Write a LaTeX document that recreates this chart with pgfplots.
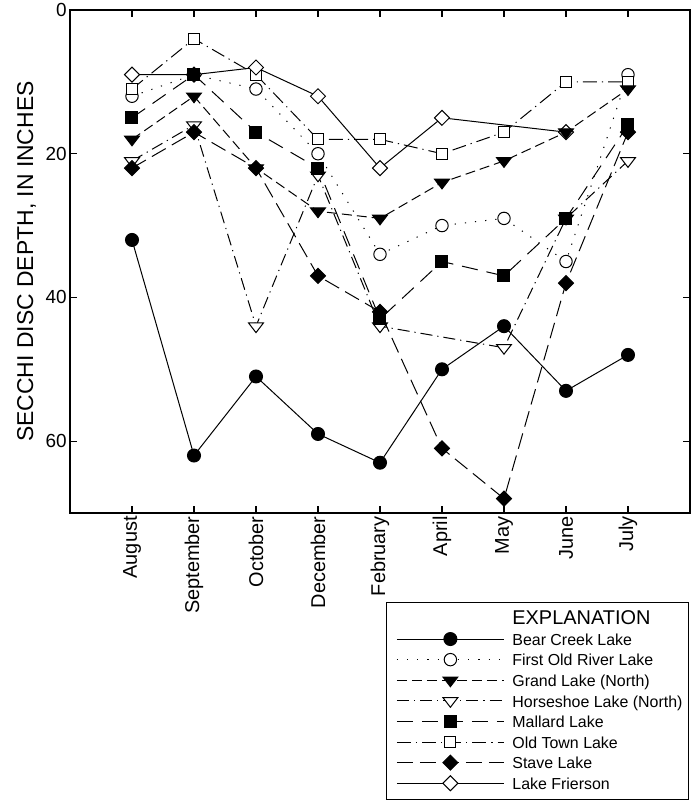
\documentclass[border=0pt]{standalone}
\usepackage{fontspec}
\setmainfont{Liberation Sans}
\usepackage{pgfplots}
\pgfplotsset{compat=1.18}
\pgfplotsset{
  bear/.style={solid, mark=*, mark size=3.25bp, mark options={solid}},
  forl/.style={dash pattern=on 0.6bp off 4.5bp, mark=*, mark size=3.1bp, mark options={solid, fill=white}},
  grand/.style={dash pattern=on 5bp off 2.5bp, mark=triangle*, mark size=4.3bp, mark options={solid, rotate=180, yscale=0.75}},
  horse/.style={dash pattern=on 6bp off 2.5bp on 0.6bp off 2.5bp, mark=triangle*, mark size=4.3bp, mark options={solid, fill=white, rotate=180, yscale=0.75}},
  mallard/.style={dash pattern=on 8bp off 4.5bp, mark=square*, mark size=3bp, mark options={solid}},
  oldtown/.style={dash pattern=on 7bp off 2.5bp on 0.6bp off 2.5bp, mark=square*, mark size=2.75bp, mark options={solid, fill=white}},
  stave/.style={dash pattern=on 8bp off 3.5bp, mark=square*, mark size=2.65bp, mark options={solid, rotate=45}},
  frier/.style={solid, mark=square*, mark size=2.65bp, mark options={solid, fill=white, rotate=45}},
}
\begin{document}
\begin{tikzpicture}
\useasboundingbox (-35bp,-144bp) rectangle (313bp,256.5bp);
\begin{axis}[
  at={(0,0)}, anchor=south west,
  width=310bp, height=251.5bp, scale only axis,
  xmin=-1, xmax=9, ymin=0, ymax=70, y dir=reverse,
  xtick={0,...,8},
  xticklabels={August,September,October,December,February,April,May,June,July},
  ytick={0,20,40,60},
  tick align=inside,
  major tick length=3.5bp,
  axis line style={line width=0.6bp},
  every tick/.style={black, line width=0.6bp},
  /pgf/number format/assume math mode=true,
  xticklabel style={rotate=90, anchor=east, font=\fontsize{10}{12}\selectfont, inner sep=1.5bp},
  yticklabel style={font=\fontsize{9.5}{11}\selectfont, inner sep=1.5bp},
  ylabel={SECCHI DISC DEPTH, IN INCHES},
  ylabel style={font=\fontsize{11.5}{13}\selectfont, at={(axis description cs:-0.0702,0.5)}, anchor=center},
  every axis plot/.append style={line width=0.5bp, black},
  legend style={at={(axis description cs:0.9984,-0.177)}, anchor=north east, draw=black, line width=0.5bp,
    font=\fontsize{8}{9.6}\selectfont, inner xsep=3bp, inner ysep=2.8bp, row sep=0bp, column sep=4bp,
    nodes={inner sep=0bp, text height=8.3bp, text depth=2bp}},
  legend cell align=left,
  legend image code/.code={\path (-2bp,0bp); \draw[mark repeat=2, mark phase=2, #1] plot coordinates {(0bp,0bp) (26.75bp,0bp) (53.5bp,0bp)};},
]
\addlegendimage{empty legend}
\addlegendentry{\fontsize{10}{12}\selectfont EXPLANATION}
\addlegendimage{black, line width=0.5bp, bear}
\addlegendentry{Bear Creek Lake}
\addlegendimage{black, line width=0.5bp, forl}
\addlegendentry{First Old River Lake}
\addlegendimage{black, line width=0.5bp, grand}
\addlegendentry{Grand Lake (North)}
\addlegendimage{black, line width=0.5bp, horse}
\addlegendentry{Horseshoe Lake (North)}
\addlegendimage{black, line width=0.5bp, mallard}
\addlegendentry{Mallard Lake}
\addlegendimage{black, line width=0.5bp, oldtown}
\addlegendentry{Old Town Lake}
\addlegendimage{black, line width=0.5bp, stave}
\addlegendentry{Stave Lake}
\addlegendimage{black, line width=0.5bp, frier}
\addlegendentry{Lake Frierson}

% First Old River Lake
\addplot[forl, forget plot]
  coordinates {(0,12) (1,9) (2,11) (3,20) (4,34) (5,30) (6,29) (7,35) (8,9)};
% Horseshoe Lake (North)
\addplot[horse, forget plot]
  coordinates {(0,21) (1,16) (2,44) (3,23) (4,44) (6,47) (7,29) (8,21)};
% Old Town Lake
\addplot[oldtown, forget plot]
  coordinates {(0,11) (1,4) (2,9) (3,18) (4,18) (5,20) (6,17) (7,10) (8,10)};
% Lake Frierson
\addplot[frier, forget plot]
  coordinates {(0,9) (1,9) (2,8) (3,12) (4,22) (5,15) (7,17)};
% Bear Creek Lake
\addplot[bear, forget plot]
  coordinates {(0,32) (1,62) (2,51) (3,59) (4,63) (5,50) (6,44) (7,53) (8,48)};
% Grand Lake (North)
\addplot[grand, forget plot]
  coordinates {(0,18) (1,12) (2,22) (3,28) (4,29) (5,24) (6,21) (7,17) (8,11)};
% Stave Lake
\addplot[stave, forget plot]
  coordinates {(0,22) (1,17) (2,22) (3,37) (4,42) (5,61) (6,68) (7,38) (8,17)};
% Mallard Lake
\addplot[mallard, forget plot]
  coordinates {(0,15) (1,9) (2,17) (3,22) (4,43) (5,35) (6,37) (7,29) (8,16)};
\end{axis}
\end{tikzpicture}
\end{document}
